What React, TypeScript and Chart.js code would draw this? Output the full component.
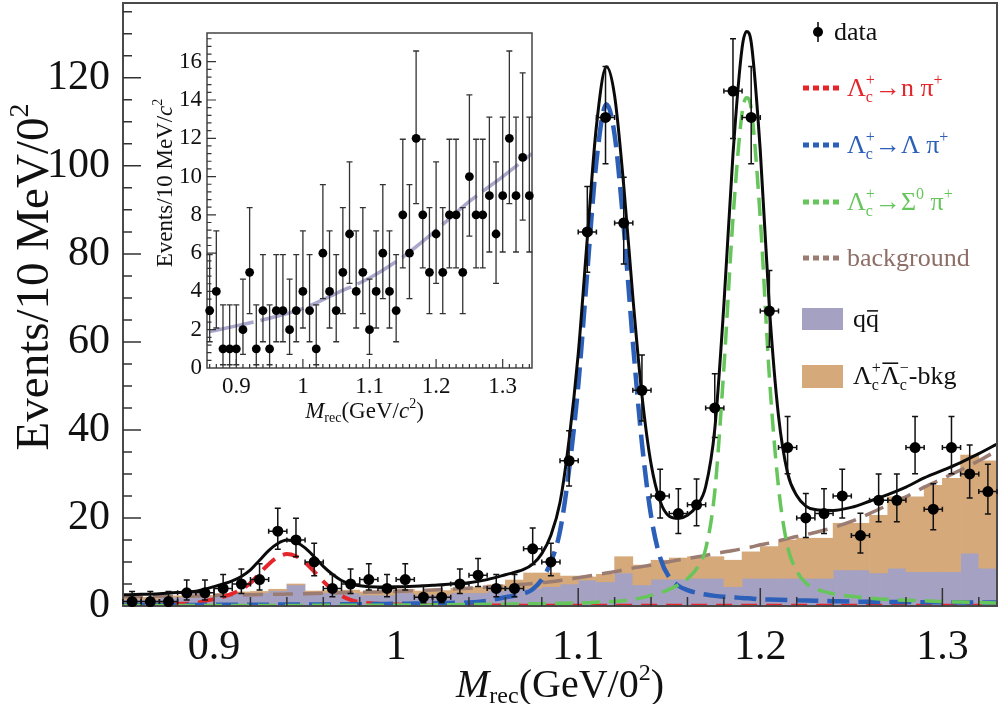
import React, { useEffect, useRef } from 'react';
import { Chart, registerables } from 'chart.js';

Chart.register(...registerables);

const FONT = '"Liberation Serif", "DejaVu Serif", "Times New Roman", serif';

// ---------------- main plot data ----------------
const binCenters = [
  0.855, 0.865, 0.875, 0.885, 0.895, 0.905, 0.915, 0.925, 0.935, 0.945,
  0.955, 0.965, 0.975, 0.985, 0.995, 1.005, 1.015, 1.025, 1.035, 1.045,
  1.055, 1.065, 1.075, 1.085, 1.095, 1.105, 1.115, 1.125, 1.135, 1.145,
  1.155, 1.165, 1.175, 1.185, 1.195, 1.205, 1.215, 1.225, 1.235, 1.245,
  1.255, 1.265, 1.275, 1.285, 1.295, 1.305, 1.315, 1.325,
];
const BIN_HALF = 0.005;

const dataCounts = [
  1, 1, 1, 3, 3, 4, 5, 6, 17, 15,
  10, 4, 5, 6, 4, 6, 2, 2, 5, 7,
  4, 4, 13, 10, 33, 85, 111, 87, 49, 25,
  21, 23, 45, 117, 111, 67, 36, 20, 21, 25,
  16, 24, 24, 36, 22, 36, 30, 26,
];
const dataErrLow = [
  0.83, 0.83, 0.83, 1.63, 1.63, 1.91, 2.16, 2.38, 4.08, 3.82,
  3.11, 1.91, 2.16, 2.38, 1.91, 2.38, 1.29, 1.29, 2.16, 2.58,
  1.91, 1.91, 3.57, 3.11, 5.73, 9.2, 10.5, 9.3, 6.98, 4.99,
  4.55, 4.77, 6.69, 10.8, 10.5, 8.16, 5.98, 4.44, 4.55, 4.99,
  3.94, 4.88, 4.88, 5.98, 4.66, 5.98, 5.47, 5.09,
];
const dataErrHigh = [
  2.3, 2.3, 2.3, 2.92, 2.92, 3.16, 3.38, 3.58, 5.2, 4.95,
  4.27, 3.16, 3.38, 3.58, 3.16, 3.58, 2.64, 2.64, 3.38, 3.77,
  3.16, 3.16, 4.71, 4.27, 6.83, 10.3, 11.6, 10.4, 8.05, 6.08,
  5.66, 5.87, 7.76, 11.9, 11.6, 9.22, 7.06, 5.55, 5.66, 6.08,
  5.08, 5.98, 5.98, 7.06, 5.76, 7.06, 6.57, 6.18,
];

const qqBkg = [
  1.5, 1.5, 2, 2, 2, 2.5, 3, 3, 3.5, 4.8,
  3, 3, 3, 2.5, 2.5, 3, 2.5, 2.5, 3, 3,
  3.5, 4, 4, 4.4, 5, 5.9, 5.5, 7.5, 4.8, 6.1,
  6.1, 6.3, 6.3, 4.4, 6.3, 6.3, 6.3, 6.3, 6.3, 8.2,
  8.2, 7.5, 8.6, 7.8, 7.8, 7.8, 12, 8.6,
];
const lcBkg = [
  0.5, 0.5, 0.3, 0.3, 0.4, 0.3, 0.2, 0.3, 0.3, 0.2,
  0.4, 0.5, 0.6, 0.7, 0.8, 0.8, 0.9, 1.0, 1.0, 1.3,
  1.3, 1.9, 3.5, 3.1, 1.8, 0.7, 1.7, 3.7, 4.5, 4.3,
  4.8, 4.9, 4.9, 6.0, 6.0, 7.2, 8.7, 9.1, 9.1, 10.6,
  10.6, 13.1, 16.2, 17.0, 19.6, 21.2, 22.3, 24.4,
];

const curveX = [
  0.85, 0.86, 0.87, 0.88, 0.89, 0.9, 0.905, 0.91, 0.915, 0.92,
  0.925, 0.93, 0.935, 0.94, 0.945, 0.95, 0.955, 0.96, 0.965, 0.97,
  0.975, 0.98, 0.99, 1.0, 1.01, 1.02, 1.03, 1.04, 1.05, 1.06,
  1.07, 1.075, 1.08, 1.085, 1.09, 1.095, 1.1, 1.105, 1.11, 1.1155,
  1.12, 1.125, 1.13, 1.135, 1.14, 1.145, 1.15, 1.155, 1.16, 1.165,
  1.17, 1.175, 1.18, 1.185, 1.19, 1.1925, 1.195, 1.2, 1.205, 1.21,
  1.215, 1.22, 1.225, 1.23, 1.24, 1.25, 1.26, 1.27, 1.28, 1.29,
  1.3, 1.31, 1.32, 1.33,
];
const fitNPi = [
  0.15, 0.2, 0.3, 0.45, 0.7, 1.6, 2.1, 2.8, 3.8, 5.2,
  7.4, 9.5, 11.1, 11.8, 11.3, 9.9, 7.8, 5.6, 3.7, 2.3,
  1.4, 0.9, 0.5, 0.35, 0.25, 0.2, 0.15, 0.12, 0.1, 0.09,
  0.08, 0.08, 0.07, 0.07, 0.07, 0.06, 0.06, 0.06, 0.06, 0.05,
  0.05, 0.05, 0.05, 0.05, 0.05, 0.05, 0.05, 0.04, 0.04, 0.04,
  0.04, 0.04, 0.04, 0.04, 0.04, 0.04, 0.04, 0.04, 0.04, 0.04,
  0.04, 0.04, 0.04, 0.04, 0.04, 0.04, 0.03, 0.03, 0.03, 0.03,
  0.03, 0.03, 0.03, 0.03,
];
const fitLambdaPi = [
  0.2, 0.2, 0.2, 0.25, 0.25, 0.3, 0.3, 0.3, 0.3, 0.3,
  0.3, 0.3, 0.32, 0.33, 0.34, 0.35, 0.35, 0.36, 0.37, 0.38,
  0.39, 0.4, 0.45, 0.5, 0.55, 0.6, 0.7, 0.8, 1.2, 2.0,
  2.8, 3.8, 6.0, 10, 17, 31, 50, 76, 101, 114,
  107, 86, 60, 37, 20.5, 11, 6.5, 4.6, 3.6, 3.0,
  2.6, 2.3, 2.1, 2.0, 1.8, 1.75, 1.7, 1.5, 1.45, 1.4,
  1.35, 1.3, 1.25, 1.2, 1.1, 1.0, 0.95, 0.9, 0.9, 0.85,
  0.85, 0.8, 0.8, 0.8,
];
const fitSigmaPi = [
  0.1, 0.1, 0.1, 0.1, 0.1, 0.12, 0.12, 0.12, 0.12, 0.13,
  0.13, 0.13, 0.13, 0.14, 0.14, 0.14, 0.15, 0.15, 0.15, 0.16,
  0.16, 0.17, 0.18, 0.2, 0.22, 0.25, 0.3, 0.33, 0.37, 0.42,
  0.48, 0.5, 0.53, 0.56, 0.6, 0.65, 0.7, 0.75, 0.85, 0.95,
  1.05, 1.2, 1.5, 1.9, 2.4, 3.0, 3.8, 4.8, 6.2, 8.5,
  13, 26, 54, 88, 112, 115.5, 113, 88, 52, 27,
  13.5, 8, 5.2, 4.0, 2.8, 2.2, 1.8, 1.5, 1.3, 1.2,
  1.0, 0.9, 0.8, 0.7,
];
const fitBackground = [
  2.1, 2.15, 2.2, 2.25, 2.3, 2.4, 2.45, 2.5, 2.5, 2.55,
  2.6, 2.65, 2.65, 2.7, 2.75, 2.8, 2.85, 2.9, 2.95, 3.0,
  3.05, 3.1, 3.2, 3.3, 3.45, 3.65, 3.85, 4.05, 4.3, 4.6,
  4.95, 5.1, 5.3, 5.5, 5.8, 6.1, 6.4, 6.75, 7.1, 7.5,
  7.8, 8.2, 8.6, 8.95, 9.3, 9.7, 10.05, 10.45, 10.8, 11.15,
  11.5, 11.9, 12.25, 12.6, 13.0, 13.2, 13.4, 13.9, 14.3, 14.8,
  15.3, 15.8, 16.2, 16.7, 17.8, 19.2, 21.0, 22.9, 24.8, 27.0,
  28.9, 30.9, 33.0, 35.3,
];
const fitTotal = [
  2.55, 2.65, 2.8, 3.05, 3.35, 4.4, 5.0, 5.7, 6.7, 8.2,
  10.4, 12.6, 14.2, 15.0, 14.5, 13.2, 11.2, 9.0, 7.2, 5.8,
  5.0, 4.6, 4.3, 4.35, 4.5, 4.7, 5.0, 5.3, 6.0, 7.1,
  8.3, 9.5, 11.9, 16.1, 23.5, 37.8, 57.2, 83.6, 109, 122.5,
  115.9, 95.5, 70.2, 47.9, 32.3, 23.8, 20.4, 19.9, 20.6, 22.7,
  27.1, 40.2, 68.4, 102.6, 126.8, 130.5, 128.1, 103.4, 67.8, 43.2,
  30.2, 25.1, 22.7, 21.9, 21.7, 22.4, 23.8, 25.3, 27.0, 29.1,
  30.8, 32.6, 34.6, 36.8,
];

const mainXTicks = [0.9, 1.0, 1.1, 1.2, 1.3];
const mainXTickLabels = ['0.9', '1', '1.1', '1.2', '1.3'];
const mainYTicks = [0, 20, 40, 60, 80, 100, 120];
const mainYTickLabels = ['0', '20', '40', '60', '80', '100', '120'];

// ---------------- inset data ----------------
const insetX = [
  0.86, 0.87, 0.88, 0.89, 0.9, 0.91, 0.92, 0.93, 0.94, 0.95,
  0.96, 0.97, 0.98, 0.99, 1.0, 1.01, 1.02, 1.03, 1.04, 1.05,
  1.06, 1.07, 1.08, 1.09, 1.1, 1.11, 1.12, 1.13, 1.14, 1.15,
  1.16, 1.17, 1.18, 1.19, 1.2, 1.21, 1.22, 1.23, 1.24, 1.25,
  1.26, 1.27, 1.28, 1.29, 1.3, 1.31, 1.32, 1.33, 1.34,
];
const insetCounts = [
  3, 4, 1, 1, 1, 2, 5, 1, 3, 1,
  3, 3, 2, 3, 4, 3, 1, 6, 4, 3,
  5, 7, 4, 5, 2, 4, 6, 4, 3, 8,
  6, 12, 8, 5, 7, 5, 8, 8, 5, 10,
  8, 8, 9, 7, 9, 12, 9, 11, 9,
];
const insetErrLow = [
  1.63, 1.91, 0.83, 0.83, 0.83, 1.29, 2.16, 0.83, 1.63, 0.83,
  1.63, 1.63, 1.29, 1.63, 1.91, 1.63, 0.83, 2.38, 1.91, 1.63,
  2.16, 2.58, 1.91, 2.16, 1.29, 1.91, 2.38, 1.91, 1.63, 2.77,
  2.38, 3.41, 2.77, 2.16, 2.58, 2.16, 2.77, 2.77, 2.16, 3.11,
  2.77, 2.77, 2.94, 2.58, 2.94, 3.41, 2.94, 3.27, 2.94,
];
const insetErrHigh = [
  2.92, 3.16, 2.3, 2.3, 2.3, 2.64, 3.38, 2.3, 2.92, 2.3,
  2.92, 2.92, 2.64, 2.92, 3.16, 2.92, 2.3, 3.58, 3.16, 2.92,
  3.38, 3.77, 3.16, 3.38, 2.64, 3.16, 3.58, 3.16, 2.92, 3.95,
  3.58, 4.56, 3.95, 3.38, 3.77, 3.38, 3.95, 3.95, 3.38, 4.27,
  3.95, 3.95, 4.11, 3.77, 4.11, 4.56, 4.11, 4.42, 4.11,
];
const insetFitX = [0.86, 0.9, 0.95, 1.0, 1.05, 1.1, 1.15, 1.2, 1.25, 1.3, 1.344];
const insetFitY = [1.9, 2.2, 2.6, 3.1, 3.9, 4.7, 5.8, 7.2, 8.7, 10.0, 11.2];
const insetXTicks = [0.9, 1.0, 1.1, 1.2, 1.3];
const insetXTickLabels = ['0.9', '1', '1.1', '1.2', '1.3'];
const insetYTicks = [0, 2, 4, 6, 8, 10, 12, 14, 16];
const insetYTickLabels = ['0', '2', '4', '6', '8', '10', '12', '14', '16'];

// ---------------- colours ----------------
const C_BLACK = '#0a0a0a';
const C_RED = '#e4262c';
const C_BLUE = '#2c5fb8';
const C_GREEN = '#66c65b';
const C_BROWN = '#9a7c72';
const C_LAV = '#a4a1c3';
const C_TAN = '#d6a97a';
const C_INSET_FIT = '#aaa7cd';

// ---------------- rich text helper ----------------
type Seg = { t: string; s: number; dy?: number; it?: boolean; hold?: boolean; over?: number };

function richRun(ctx: any, x: number, y: number, segs: Seg[], draw: boolean) {
  let cx = x;
  let held = 0;
  for (const g of segs) {
    ctx.font = `${g.it ? 'italic ' : ''}${g.s}px ${FONT}`;
    const w = ctx.measureText(g.t).width;
    if (draw) {
      const yy = y + (g.dy || 0);
      ctx.fillText(g.t, cx, yy);
      if (g.over) {
        const oy = yy - g.s * g.over;
        ctx.save();
        ctx.lineWidth = Math.max(1.2, g.s * 0.06);
        ctx.beginPath();
        ctx.moveTo(cx + w * 0.08, oy);
        ctx.lineTo(cx + w * 0.92, oy);
        ctx.stroke();
        ctx.restore();
      }
    }
    if (g.hold) {
      held = Math.max(held, w);
    } else {
      cx += Math.max(w, held);
      held = 0;
    }
  }
  return cx - x;
}

function drawRich(ctx: any, x: number, y: number, segs: Seg[], color: string, align: 'left' | 'center' = 'left') {
  ctx.save();
  ctx.fillStyle = color;
  ctx.strokeStyle = color;
  ctx.textAlign = 'left';
  ctx.textBaseline = 'alphabetic';
  let sx = x;
  if (align === 'center') {
    const w = richRun(ctx, 0, 0, segs, false);
    sx = x - w / 2;
  }
  richRun(ctx, sx, y, segs, true);
  ctx.restore();
}

function drawRichRotated(ctx: any, cx: number, cy: number, segs: Seg[], color: string) {
  ctx.save();
  ctx.translate(cx, cy);
  ctx.rotate(-Math.PI / 2);
  drawRich(ctx, 0, 0, segs, color, 'center');
  ctx.restore();
}

// ---------------- main overlay plugin ----------------
const LEG = 26;
const SUP = 16;
const lamC = (): Seg[] => [
  { t: 'Λ', s: LEG },
  { t: '+', s: SUP, dy: -11, hold: true },
  { t: 'c', s: SUP, dy: 6 },
];

const mainOverlay = {
  id: 'mainOverlay',
  afterDatasetsDraw(chart: any) {
    const { ctx, chartArea: a, scales } = chart;
    const xs = scales.x;
    const ys = scales.y;
    ctx.save();
    // frame
    ctx.strokeStyle = '#4a4a4a';
    ctx.lineWidth = 2;
    ctx.strokeRect(a.left, a.top, a.right - a.left, a.bottom - a.top);
    // ticks (inside)
    ctx.strokeStyle = '#333';
    ctx.lineWidth = 1.5;
    ctx.beginPath();
    for (let k = 0; k <= 23; k++) {
      const v = 0.86 + 0.02 * k;
      const major = Math.abs(v * 10 - Math.round(v * 10)) < 1e-6;
      const px = xs.getPixelForValue(v);
      ctx.moveTo(px, a.bottom);
      ctx.lineTo(px, a.bottom - (major ? 18 : 9));
    }
    for (let v = 5; v < 137; v += 5) {
      const major = v % 20 === 0;
      const py = ys.getPixelForValue(v);
      ctx.moveTo(a.left, py);
      ctx.lineTo(a.left + (major ? 18 : 9), py);
    }
    ctx.stroke();

    // data points with error bars
    ctx.strokeStyle = '#111';
    ctx.fillStyle = '#000';
    ctx.lineWidth = 1.5;
    for (let i = 0; i < binCenters.length; i++) {
      const v = dataCounts[i];
      const cx = xs.getPixelForValue(binCenters[i]);
      const xl = xs.getPixelForValue(binCenters[i] - BIN_HALF);
      const xr = xs.getPixelForValue(binCenters[i] + BIN_HALF);
      const cy = ys.getPixelForValue(v);
      const yt = ys.getPixelForValue(v + dataErrHigh[i]);
      const yb = ys.getPixelForValue(Math.max(0, v - dataErrLow[i]));
      ctx.beginPath();
      ctx.moveTo(cx, yt); ctx.lineTo(cx, yb);
      ctx.moveTo(xl, cy); ctx.lineTo(xr, cy);
      ctx.moveTo(cx - 3, yt); ctx.lineTo(cx + 3, yt);
      ctx.moveTo(cx - 3, yb); ctx.lineTo(cx + 3, yb);
      ctx.moveTo(xl, cy - 2.5); ctx.lineTo(xl, cy + 2.5);
      ctx.moveTo(xr, cy - 2.5); ctx.lineTo(xr, cy + 2.5);
      ctx.stroke();
      ctx.beginPath();
      ctx.arc(cx, cy, 5.5, 0, Math.PI * 2);
      ctx.fill();
    }
    ctx.restore();
  },
  afterDraw(chart: any) {
    const { ctx, chartArea: a } = chart;
    ctx.save();
    // axis titles
    drawRich(ctx, (a.left + a.right) / 2, 697, [
      { t: 'M', s: 40, it: true },
      { t: 'rec', s: 24, dy: 6 },
      { t: '(GeV/0', s: 40 },
      { t: '2', s: 24, dy: -17 },
      { t: ')', s: 40 },
    ], '#111', 'center');
    drawRichRotated(ctx, 48, 277, [
      { t: 'Events/10 MeV/0', s: 47 },
      { t: '2', s: 28, dy: -20 },
    ], '#111');

    // legend
    ctx.strokeStyle = '#000';
    ctx.fillStyle = '#000';
    ctx.lineWidth = 1.5;
    ctx.beginPath();
    ctx.moveTo(818, 22); ctx.lineTo(818, 42);
    ctx.stroke();
    ctx.beginPath();
    ctx.arc(818, 32, 5, 0, Math.PI * 2);
    ctx.fill();
    drawRich(ctx, 834, 40, [{ t: 'data', s: LEG }], '#111');

    const lineItems: Array<[string, number, Seg[]]> = [
      [C_RED, 88, [...lamC(), { t: '→n π', s: LEG }, { t: '+', s: SUP, dy: -11 }]],
      [C_BLUE, 145, [...lamC(), { t: '→Λ π', s: LEG }, { t: '+', s: SUP, dy: -11 }]],
      [C_GREEN, 202, [...lamC(), { t: '→Σ', s: LEG }, { t: '0', s: SUP, dy: -11 }, { t: ' π', s: LEG }, { t: '+', s: SUP, dy: -11 }]],
      [C_BROWN, 258, [{ t: 'background', s: LEG }]],
    ];
    for (const [col, cy, segs] of lineItems) {
      ctx.save();
      ctx.strokeStyle = col;
      ctx.lineWidth = 5;
      ctx.setLineDash([6, 4]);
      ctx.beginPath();
      ctx.moveTo(803, cy);
      ctx.lineTo(841, cy);
      ctx.stroke();
      ctx.restore();
      drawRich(ctx, 847, cy + 8, segs, col === C_BROWN ? '#8d6f68' : col);
    }
    // boxes
    ctx.fillStyle = C_LAV;
    ctx.fillRect(802, 308, 41, 22);
    drawRich(ctx, 853, 327, [{ t: 'q', s: LEG }, { t: 'q', s: LEG, over: 0.62 }], '#111');
    ctx.fillStyle = C_TAN;
    ctx.fillRect(802, 365, 41, 23);
    drawRich(ctx, 853, 384, [
      ...lamC(),
      { t: 'Λ', s: LEG, over: 0.8 },
      { t: '−', s: SUP, dy: -11, hold: true },
      { t: 'c', s: SUP, dy: 6 },
      { t: '-bkg', s: LEG },
    ], '#111');
    ctx.restore();
  },
};

// ---------------- inset overlay plugin ----------------
const insetOverlay = {
  id: 'insetOverlay',
  beforeDraw(chart: any) {
    const { ctx, width, height } = chart;
    ctx.save();
    ctx.fillStyle = '#fff';
    ctx.fillRect(0, 0, width, height);
    ctx.restore();
  },
  afterDatasetsDraw(chart: any) {
    const { ctx, chartArea: a, scales } = chart;
    const xs = scales.x;
    const ys = scales.y;
    ctx.save();
    ctx.strokeStyle = '#444';
    ctx.lineWidth = 1.5;
    ctx.strokeRect(a.left, a.top, a.right - a.left, a.bottom - a.top);
    ctx.strokeStyle = '#333';
    ctx.lineWidth = 1.2;
    ctx.beginPath();
    for (let k = 0; k <= 48; k++) {
      const v = 0.86 + 0.01 * k;
      const major = Math.abs(v * 10 - Math.round(v * 10)) < 1e-6;
      const px = xs.getPixelForValue(v);
      ctx.moveTo(px, a.bottom);
      ctx.lineTo(px, a.bottom - (major ? 9 : 4));
    }
    for (let k = 1; k <= 43; k++) {
      const v = 0.4 * k;
      const major = k % 5 === 0;
      const py = ys.getPixelForValue(v);
      ctx.moveTo(a.left, py);
      ctx.lineTo(a.left + (major ? 9 : 4.5), py);
    }
    ctx.stroke();

    ctx.strokeStyle = '#333';
    ctx.fillStyle = '#000';
    ctx.lineWidth = 1.3;
    for (let i = 0; i < insetX.length; i++) {
      const v = insetCounts[i];
      const cx = xs.getPixelForValue(insetX[i]);
      const cy = ys.getPixelForValue(v);
      const yt = ys.getPixelForValue(v + insetErrHigh[i]);
      const yb = ys.getPixelForValue(Math.max(0, v - insetErrLow[i]));
      ctx.beginPath();
      ctx.moveTo(cx, yt); ctx.lineTo(cx, yb);
      ctx.moveTo(cx - 3, yt); ctx.lineTo(cx + 3, yt);
      ctx.moveTo(cx - 3, yb); ctx.lineTo(cx + 3, yb);
      ctx.stroke();
      ctx.beginPath();
      ctx.arc(cx, cy, 4.4, 0, Math.PI * 2);
      ctx.fill();
    }
    ctx.restore();
  },
  afterDraw(chart: any) {
    const { ctx, chartArea: a } = chart;
    drawRich(ctx, (a.left + a.right) / 2 - 5, 398, [
      { t: 'M', s: 23, it: true },
      { t: 'rec', s: 14, dy: 4 },
      { t: '(GeV/', s: 23 },
      { t: 'c', s: 23, it: true },
      { t: '2', s: 14, dy: -10 },
      { t: ')', s: 23 },
    ], '#111', 'center');
    drawRichRotated(ctx, 27, 163, [
      { t: 'Events/10 MeV/', s: 23 },
      { t: 'c', s: 23, it: true },
      { t: '2', s: 14, dy: -10 },
    ], '#111');
  },
};

function curveDataset(values: number[], color: string, width: number, dash: number[] | null) {
  return {
    type: 'line',
    data: curveX.map((x, i) => ({ x, y: values[i] })),
    borderColor: color,
    borderWidth: width,
    borderDash: dash || [],
    pointRadius: 0,
    fill: false,
    cubicInterpolationMode: 'monotone',
  };
}

function mainConfig(): any {
  return {
    type: 'line',
    data: {
      datasets: [
        curveDataset(fitTotal, C_BLACK, 3, null),
        curveDataset(fitSigmaPi, C_GREEN, 3.5, [18, 9]),
        curveDataset(fitLambdaPi, C_BLUE, 4.5, [22, 9]),
        curveDataset(fitNPi, C_RED, 4, [16, 9]),
        curveDataset(fitBackground, C_BROWN, 3.5, [20, 10]),
        {
          type: 'bar',
          data: binCenters.map((x, i) => ({ x, y: [qqBkg[i], qqBkg[i] + lcBkg[i]] })),
          backgroundColor: C_TAN,
          borderWidth: 0,
          barPercentage: 1,
          categoryPercentage: 1,
          grouped: false,
        },
        {
          type: 'bar',
          data: binCenters.map((x, i) => ({ x, y: qqBkg[i] })),
          backgroundColor: C_LAV,
          borderWidth: 0,
          barPercentage: 1,
          categoryPercentage: 1,
          grouped: false,
        },
      ],
    },
    options: {
      responsive: false,
      animation: false,
      devicePixelRatio: 1,
      events: [],
      layout: { padding: { top: 3, right: 3, left: 0, bottom: 0 } },
      plugins: { legend: { display: false }, tooltip: { enabled: false }, title: { display: false } },
      scales: {
        x: {
          type: 'linear',
          min: 0.85,
          max: 1.33,
          offset: false,
          bounds: 'data',
          afterBuildTicks: (s: any) => { s.ticks = mainXTicks.map((v) => ({ value: v })); },
          afterFit: (s: any) => { s.height = 98; s.paddingLeft = 0; s.paddingRight = 0; },
          ticks: {
            callback: (_v: any, i: number) => mainXTickLabels[i],
            font: { family: FONT, size: 42 },
            color: '#111',
            padding: 17,
            maxRotation: 0,
            autoSkip: false,
          },
          grid: { display: false, drawTicks: false },
          border: { display: false },
        },
        y: {
          type: 'linear',
          min: 0,
          max: 137,
          bounds: 'data',
          afterBuildTicks: (s: any) => { s.ticks = mainYTicks.map((v) => ({ value: v })); },
          afterFit: (s: any) => { s.width = 123; s.paddingTop = 0; s.paddingBottom = 0; },
          ticks: {
            callback: (_v: any, i: number) => mainYTickLabels[i],
            font: { family: FONT, size: 42 },
            color: '#111',
            padding: 13,
            autoSkip: false,
          },
          grid: { display: false, drawTicks: false },
          border: { display: false },
        },
      },
    },
    plugins: [mainOverlay],
  };
}

function insetConfig(): any {
  return {
    type: 'line',
    data: {
      datasets: [
        {
          type: 'line',
          data: insetFitX.map((x, i) => ({ x, y: insetFitY[i] })),
          borderColor: C_INSET_FIT,
          borderWidth: 3.5,
          borderDash: [45, 7],
          pointRadius: 0,
          fill: false,
          cubicInterpolationMode: 'monotone',
        },
      ],
    },
    options: {
      responsive: false,
      animation: false,
      devicePixelRatio: 1,
      events: [],
      layout: { padding: { top: 13, right: 8, left: 0, bottom: 0 } },
      plugins: { legend: { display: false }, tooltip: { enabled: false }, title: { display: false } },
      scales: {
        x: {
          type: 'linear',
          min: 0.856,
          max: 1.344,
          offset: false,
          bounds: 'data',
          afterBuildTicks: (s: any) => { s.ticks = insetXTicks.map((v) => ({ value: v })); },
          afterFit: (s: any) => { s.height = 62; s.paddingLeft = 0; s.paddingRight = 0; },
          ticks: {
            callback: (_v: any, i: number) => insetXTickLabels[i],
            font: { family: FONT, size: 23 },
            color: '#111',
            padding: 5,
            maxRotation: 0,
            autoSkip: false,
          },
          grid: { display: false, drawTicks: false },
          border: { display: false },
        },
        y: {
          type: 'linear',
          min: 0,
          max: 17.5,
          bounds: 'data',
          afterBuildTicks: (s: any) => { s.ticks = insetYTicks.map((v) => ({ value: v })); },
          afterFit: (s: any) => { s.width = 62; s.paddingTop = 0; s.paddingBottom = 0; },
          ticks: {
            callback: (_v: any, i: number) => insetYTickLabels[i],
            font: { family: FONT, size: 23 },
            color: '#111',
            padding: 5,
            autoSkip: false,
          },
          grid: { display: false, drawTicks: false },
          border: { display: false },
        },
      },
    },
    plugins: [insetOverlay],
  };
}

export default function App() {
  const mainRef = useRef<HTMLCanvasElement | null>(null);
  const insetRef = useRef<HTMLCanvasElement | null>(null);
  useEffect(() => {
    const main = new Chart(mainRef.current as HTMLCanvasElement, mainConfig());
    const inset = new Chart(insetRef.current as HTMLCanvasElement, insetConfig());
    return () => {
      main.destroy();
      inset.destroy();
    };
  }, []);
  return (
    <div style={{ position: 'fixed', left: 0, top: 0, width: 1000, height: 704, background: '#fff', overflow: 'hidden' }}>
      <canvas ref={mainRef} width={1000} height={704} style={{ position: 'absolute', left: 0, top: 0, width: 1000, height: 704 }} />
      <canvas ref={insetRef} width={395} height={410} style={{ position: 'absolute', left: 145, top: 20, width: 395, height: 410 }} />
    </div>
  );
}
